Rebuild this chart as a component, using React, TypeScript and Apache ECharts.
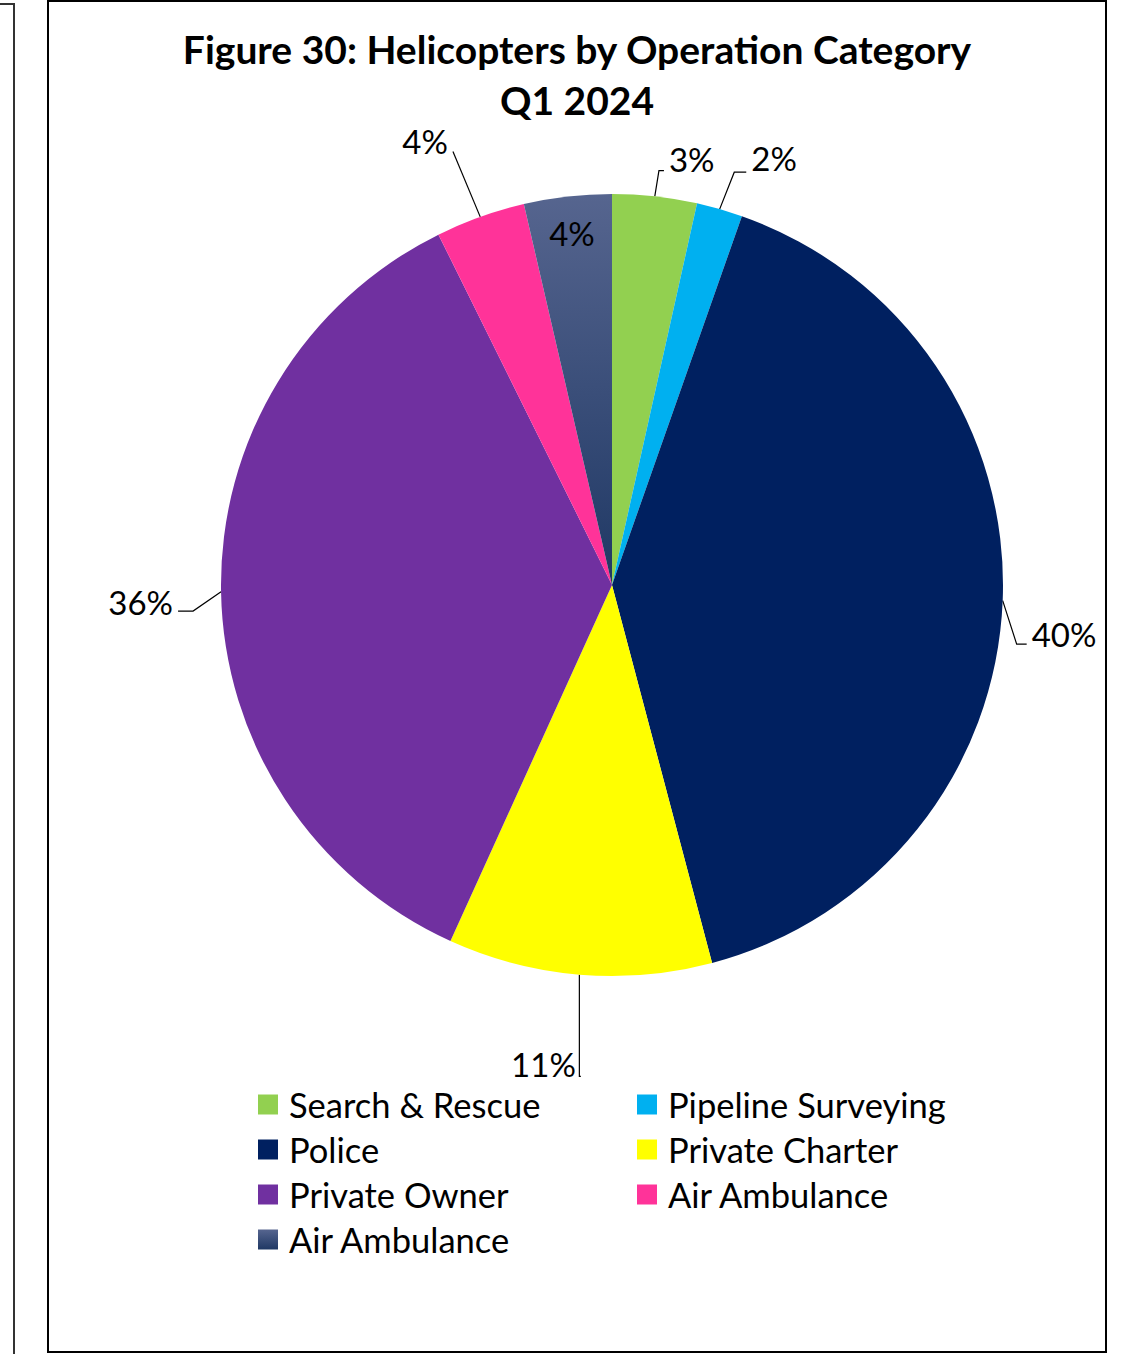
import React, { useEffect, useRef } from 'react';
import * as echarts from 'echarts';

// ---- data ----
const categories = [
  'Search & Rescue',
  'Pipeline Surveying',
  'Police',
  'Private Charter',
  'Private Owner',
  'Air Ambulance',
  'Air Ambulance ',
];
const shares = [3.49, 1.9, 40.49, 10.9, 35.9, 3.7, 3.62];
const titleLines = ['Figure 30: Helicopters by Operation Category', 'Q1 2024'];

// ---- styles ----
const FONT = 'Lato, "Open Sans", sans-serif';
const sliceColors: any[] = [
  '#92D050',
  '#00B0F0',
  '#002060',
  '#FFFF00',
  '#7030A0',
  '#FF3399',
  new echarts.graphic.LinearGradient(0, 0, 0, 1, [
    { offset: 0, color: '#56658F' },
    { offset: 1, color: '#1F3864' },
  ]),
];
const lineLen = [38, 53, 14, 90, 28, 81, -37];
const lineLen2 = [5, 12, 10, -9, 15, 0, 0];
const labelDist = [5, 5, 5, 5, 5, 5, -23];
const labelShiftY = [0, 0, 33, 0, 10, 0, 0];
const lineShiftY = [12, 14, 43, 12, 19, 11, 0];

export default function App() {
  const ref = useRef<HTMLDivElement>(null);
  useEffect(() => {
    if (!ref.current) return;
    const chart = echarts.init(ref.current, null, { renderer: 'svg' });
    const total = shares.reduce((a, b) => a + b, 0);
    const data = categories.map((name, i) => ({
      name,
      value: shares[i],
      itemStyle: { color: sliceColors[i] },
      label: { distanceToLabelLine: labelDist[i] },
      labelLine: { show: i !== 6, length: lineLen[i], length2: lineLen2[i] },
    }));
    chart.setOption({
      animation: false,
      backgroundColor: '#ffffff',
      title: {
        text: titleLines.join('\n'),
        left: 572,
        top: 18,
        textAlign: 'center',
        textStyle: {
          fontFamily: FONT,
          fontWeight: 'bold',
          fontSize: 39,
          lineHeight: 51,
          color: '#000',
        },
      },
      legend: {
        left: 258,
        top: 1082,
        width: 760,
        padding: 0,
        itemGap: 0,
        itemWidth: 20,
        itemHeight: 20,
        icon: 'rect',
        selectedMode: false,
        data: categories,
        textStyle: {
          fontFamily: FONT,
          fontSize: 34.5,
          color: '#000',
          width: 348,
          lineHeight: 45,
          padding: [0, 0, 0, 6],
        },
      },
      graphic: [
        {
          type: 'rect',
          shape: { x: 48, y: 1, width: 1058, height: 1351 },
          style: { fill: 'none', stroke: '#000', lineWidth: 2 },
          silent: true,
        },
        {
          type: 'polyline',
          shape: { points: [[0, 4], [14, 4], [14, 1354]] },
          style: { fill: 'none', stroke: '#333', lineWidth: 2 },
          silent: true,
        },
      ],
      series: [
        {
          type: 'pie',
          center: [612, 585],
          radius: 391,
          startAngle: 90,
          clockwise: true,
          avoidLabelOverlap: false,
          emphasis: { disabled: true },
          label: {
            show: true,
            position: 'outside',
            fontFamily: FONT,
            fontSize: 33,
            color: '#000',
            formatter: (p: any) => Math.round((p.value / total) * 100) + '%',
          },
          labelLine: {
            show: true,
            lineStyle: { color: '#000', width: 1.2 },
          },
          labelLayout: (p: any) => {
            const dy = labelShiftY[p.dataIndex];
            const ly = lineShiftY[p.dataIndex];
            if (!dy && !ly) return {};
            const out: any = {};
            if (dy) out.y = p.labelRect.y + p.labelRect.height / 2 + dy;
            const pts = p.labelLinePoints;
            if (pts && pts.length === 3) {
              out.labelLinePoints = [
                [pts[0][0], pts[0][1]],
                [pts[1][0], pts[1][1] + ly],
                [pts[2][0], pts[2][1] + ly],
              ];
            }
            return out;
          },
          data,
        },
      ],
    });
    return () => chart.dispose();
  }, []);
  return (
    <div
      ref={ref}
      style={{ position: 'absolute', left: 0, top: 0, width: 1124, height: 1354, background: '#fff' }}
    />
  );
}
